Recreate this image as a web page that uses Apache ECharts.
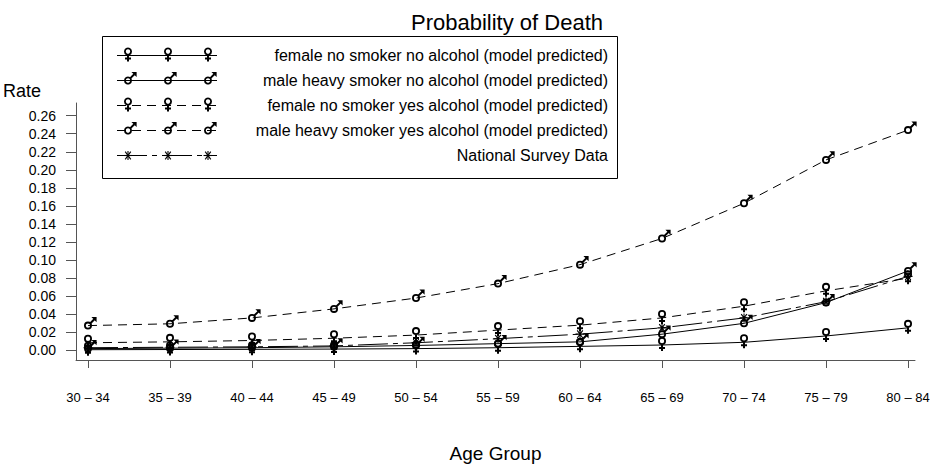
<!DOCTYPE html>
<html><head><meta charset="utf-8">
<script src="https://cdn.jsdelivr.net/npm/echarts@6/dist/echarts.min.js"></script>
<style>html,body{margin:0;padding:0;background:#fff}#c{width:933px;height:468px}</style>
</head><body><div id="c"></div>
<script>
// ---- data ----
const categories = ['30 – 34','35 – 39','40 – 44','45 – 49','50 – 54','55 – 59','60 – 64','65 – 69','70 – 74','75 – 79','80 – 84'];
const femaleNoSmokerNoAlcohol   = [0.0008,0.0010,0.0012,0.0015,0.0020,0.0030,0.0045,0.0060,0.0090,0.0160,0.0250];
const maleHeavySmokerNoAlcohol  = [0.0020,0.0025,0.0030,0.0040,0.0055,0.0075,0.0095,0.0180,0.0300,0.0530,0.0880];
const femaleNoSmokerYesAlcohol  = [0.0085,0.0095,0.0110,0.0135,0.0170,0.0225,0.0280,0.0360,0.0490,0.0660,0.0800];
const maleHeavySmokerYesAlcohol = [0.0275,0.0295,0.0360,0.0460,0.0580,0.0740,0.0950,0.1240,0.1630,0.2110,0.2440];
const nationalSurveyData        = [0.0030,0.0035,0.0040,0.0050,0.0085,0.0130,0.0180,0.0250,0.0360,0.0540,0.0820];
const seriesNames = [
  'female no smoker no alcohol (model predicted)',
  'male heavy smoker no alcohol (model predicted)',
  'female no smoker yes alcohol (model predicted)',
  'male heavy smoker yes alcohol (model predicted)',
  'National Survey Data'
];
const yTickValues = [0,0.02,0.04,0.06,0.08,0.10,0.12,0.14,0.16,0.18,0.20,0.22,0.24,0.26];
const titleText = 'Probability of Death';
const yName = 'Rate';
const xName = 'Age Group';

// ---- glyph geometry (anchor = data point at origin) ----
function bar(x1, y1, x2, y2, w) {
  const dx = x2 - x1, dy = y2 - y1, L = Math.hypot(dx, dy);
  const nx = -dy / L * w / 2, ny = dx / L * w / 2;
  let pts = [[x1 + nx, y1 + ny], [x2 + nx, y2 + ny], [x2 - nx, y2 - ny], [x1 - nx, y1 - ny]];
  let a = 0;
  for (let i = 0; i < 4; i++) { const p = pts[i], q = pts[(i + 1) % 4]; a += p[0] * q[1] - q[0] * p[1]; }
  if (a < 0) pts = pts.reverse();
  return pts;
}
const GLYPHS = {
  f: {rings: [[0, -4, 4, 2.2]], polys: [bar(0, -0.3, 0, 6, 2), bar(-3, 3, 3, 3, 2)]},
  m: {rings: [[0, 0, 4, 2.2]], polys: [bar(2.4, -2.4, 6.3, -6.3, 2), [[3.4, -8.6], [8.6, -8.6], [8.6, -3.4]]]},
  s: {rings: [], polys: [bar(-4.5, 0, 4.5, 0, 1.1), bar(-2.8, -3.8, 2.8, 3.8, 1.1), bar(-2.8, 3.8, 2.8, -3.8, 1.1), bar(0, -4.5, 0, 4.5, 1.1)]}
};
function glyphBox(g) {
  let x0 = Infinity, y0 = Infinity, x1 = -Infinity, y1 = -Infinity;
  g.rings.forEach(r => { x0 = Math.min(x0, r[0] - r[2]); x1 = Math.max(x1, r[0] + r[2]); y0 = Math.min(y0, r[1] - r[2]); y1 = Math.max(y1, r[1] + r[2]); });
  g.polys.forEach(p => p.forEach(q => { x0 = Math.min(x0, q[0]); x1 = Math.max(x1, q[0]); y0 = Math.min(y0, q[1]); y1 = Math.max(y1, q[1]); }));
  return {x0, y0, x1, y1, w: x1 - x0, h: y1 - y0, cx: (x0 + x1) / 2, cy: (y0 + y1) / 2};
}
function glyphPath(g) {
  let d = '';
  g.rings.forEach(([cx, cy, r, r0]) => {
    d += `M${cx + r} ${cy}A${r} ${r} 0 1 1 ${cx - r} ${cy}A${r} ${r} 0 1 1 ${cx + r} ${cy}Z`;
    d += `M${cx + r0} ${cy}A${r0} ${r0} 0 1 0 ${cx - r0} ${cy}A${r0} ${r0} 0 1 0 ${cx + r0} ${cy}Z`;
  });
  g.polys.forEach(p => { d += 'M' + p.map(q => q[0].toFixed(3) + ' ' + q[1].toFixed(3)).join('L') + 'Z'; });
  return 'path://' + d;
}
function glyphGraphic(g, x, y) {
  const out = [];
  g.rings.forEach(([cx, cy, r, r0]) => out.push({type: 'ring', shape: {cx: x + cx, cy: y + cy, r: r, r0: r0}, style: {fill: '#000'}, z: 10, silent: true}));
  g.polys.forEach(p => out.push({type: 'polygon', shape: {points: p.map(q => [x + q[0], y + q[1]])}, style: {fill: '#000'}, z: 10, silent: true}));
  return out;
}

const seriesStyle = [
  {kind: 'f', dash: 'solid'},
  {kind: 'm', dash: 'solid'},
  {kind: 'f', dash: [9, 6]},
  {kind: 'm', dash: [9, 6]},
  {kind: 's', dash: [30, 5, 5, 5]}
];
const allValues = [femaleNoSmokerNoAlcohol, maleHeavySmokerNoAlcohol, femaleNoSmokerYesAlcohol, maleHeavySmokerYesAlcohol, nationalSurveyData];
const FONT = '"Liberation Sans", Arial, Helvetica, sans-serif';

const series = allValues.map((vals, k) => {
  const g = GLYPHS[seriesStyle[k].kind], b = glyphBox(g);
  return {
    name: seriesNames[k],
    type: 'line',
    data: vals.map((v, i) => [i, v]),
    symbol: glyphPath(g),
    symbolSize: [b.w, b.h],
    symbolKeepAspect: false,
    symbolOffset: [b.cx, b.cy],
    showAllSymbol: true,
    lineStyle: {color: '#000', width: 1, type: seriesStyle[k].dash},
    itemStyle: {color: '#000', borderWidth: 0},
    emphasis: {disabled: true},
    animation: false
  };
});

// legend drawn as graphic primitives
const graphic = [{
  type: 'rect', shape: {x: 102.5, y: 36.5, width: 515, height: 142},
  style: {fill: 'none', stroke: '#000', lineWidth: 1}, silent: true
}];
const markerX = [128, 168, 208];
seriesNames.forEach((name, k) => {
  const y = 55.5 + 25 * k;
  const st = seriesStyle[k];
  const lineStyle = {stroke: '#000', lineWidth: 1};
  if (st.dash !== 'solid') lineStyle.lineDash = st.dash;
  graphic.push({type: 'line', shape: {x1: 117, y1: y, x2: 217, y2: y}, style: lineStyle, silent: true});
  markerX.forEach(mx => glyphGraphic(GLYPHS[st.kind], mx, y).forEach(e => graphic.push(e)));
  graphic.push({type: 'text', x: 608, y: y,
    style: {text: name, align: 'right', verticalAlign: 'middle', textAlign: 'right', textVerticalAlign: 'middle',
      font: '16px ' + FONT, fill: '#000'}, silent: true});
});

const chart = echarts.init(document.getElementById('c'), null, {renderer: 'svg'});
chart.setOption({
  animation: false,
  backgroundColor: '#fff',
  title: {text: titleText, left: 406, top: 6,
    textStyle: {fontSize: 22, fontWeight: 'normal', color: '#000', fontFamily: FONT}},
  grid: {left: 73, right: 18, top: 103, bottom: 96, containLabel: false},
  xAxis: {
    type: 'value', min: -0.146, max: 10.085,
    name: xName, nameLocation: 'middle', nameGap: 84,
    nameTextStyle: {fontSize: 19, color: '#000', fontFamily: FONT},
    axisLine: {show: true, onZero: false, lineStyle: {color: '#555', width: 1}},
    axisTick: {show: true, length: 8, customValues: categories.map((c, i) => i), lineStyle: {color: '#555'}},
    axisLabel: {customValues: categories.map((c, i) => i), margin: 31, fontSize: 13, color: '#000', fontFamily: FONT,
      formatter: v => categories[Math.round(v)]},
    splitLine: {show: false}
  },
  yAxis: {
    type: 'value', min: -0.0106, max: 0.274,
    name: yName, nameLocation: 'end', nameGap: 3,
    nameTextStyle: {fontSize: 18, color: '#000', fontFamily: FONT, align: 'right', padding: [0, 35, 0, 0]},
    axisLine: {show: true, onZero: false, lineStyle: {color: '#555', width: 1}},
    axisTick: {show: true, length: 10, customValues: yTickValues, lineStyle: {color: '#555'}},
    axisLabel: {customValues: yTickValues, margin: 20, fontSize: 14, color: '#000', fontFamily: FONT,
      formatter: v => v.toFixed(2)},
    splitLine: {show: false}
  },
  graphic: graphic,
  series: series
});
</script>
</body></html>
